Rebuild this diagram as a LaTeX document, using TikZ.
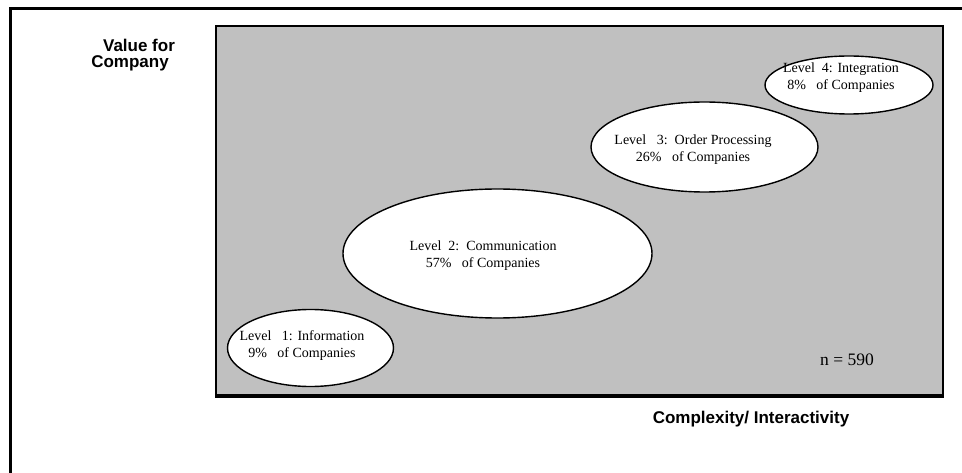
\documentclass[tikz,border=0pt]{standalone}
\usepackage{fontspec}
\setmainfont{Liberation Serif}
\newfontfamily\arialbold{Liberation Sans}[BoldFont={Liberation Sans Bold}]
\usetikzlibrary{shapes.geometric}
\definecolor{panelgray}{HTML}{C0C0C0}
\tikzset{
  levelbubble/.style={ellipse, draw=black, line width=1.4pt, fill=white, inner sep=0pt},
  leveltext/.style={align=center, font=\fontsize{14}{17}\selectfont, inner sep=0pt},
  axistext/.style={font=\arialbold\bfseries\fontsize{17}{16}\selectfont, inner sep=0pt}
}
\begin{document}
\begin{tikzpicture}[x=1pt,y=-1pt]
\useasboundingbox (0,0) rectangle (962,473);
% outer frame
\draw[line width=3pt] (10,473) -- (10,9) -- (962,9);
% panel
\fill[panelgray] (216,26) rectangle (943,396);
\draw[line width=1.8pt] (216,396) -- (216,26) -- (943,26) -- (943,396);
\draw[line width=3.2pt] (215,396) -- (944,396);
% bubbles
\node[levelbubble, minimum width=166pt, minimum height=77pt] (e1) at (310.5,348) {};
\node[levelbubble, minimum width=309pt, minimum height=129pt] (e2) at (497.5,253.5) {};
\node[levelbubble, minimum width=227pt, minimum height=90pt] (e3) at (704.5,147) {};
\node[levelbubble, minimum width=168pt, minimum height=58pt] (e4) at (849,85) {};
% texts
\node[leveltext] (t1) at (302,346) {Level\ \ \ 1: Information\\9\%\ \ \ of Companies};
\node[leveltext] (t2) at (483,256) {Level\ \ 2:\ \ Communication\\57\%\ \ \ of Companies};
\node[leveltext] (t3) at (693,150) {Level\ \ \ 3:\ \ Order Processing\\26\%\ \ \ of Companies};
\node[leveltext] (t4) at (841,78) {Level\ \ 4: Integration\\8\%\ \ \ of Companies};
\node[leveltext, font=\fontsize{17.5}{17}\selectfont, anchor=base] (n) at (847,366) {n = 590};
\node[axistext, align=center] (yl) at (130,55) {\hspace*{18pt}Value for\\Company};
\node[axistext] (xl) at (751,419) {Complexity/ Interactivity};
\end{tikzpicture}
\end{document}
